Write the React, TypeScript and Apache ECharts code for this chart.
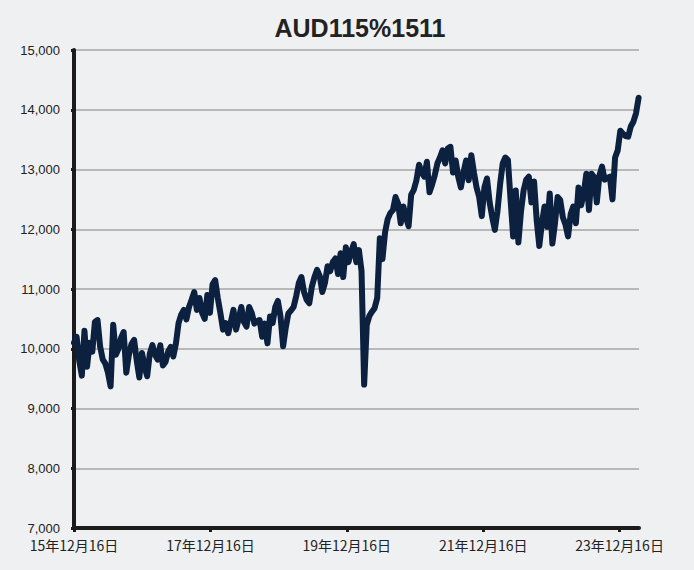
import React, { useEffect, useRef } from "react";
import * as echarts from "echarts";

// Values, one per 14 days starting 2015-12-16
const v2016 = [10100, 10200, 9800, 9550, 10300, 9700, 10100, 9950, 10450, 10480, 10035, 9820, 9750, 9600, 9370, 10400, 9900, 10000, 10180, 10280, 9600, 9900, 10080, 10150, 9800, 9520];
const v2017 = [9930, 9700, 9540, 9920, 10060, 9900, 9820, 10060, 9720, 9780, 9950, 10030, 9870, 10090, 10430, 10570, 10650, 10490, 10700, 10820, 10950, 10650, 10850, 10600, 10500, 10900];
const v2018 = [10600, 11080, 11150, 10850, 10600, 10320, 10430, 10260, 10450, 10650, 10320, 10500, 10700, 10450, 10370, 10700, 10600, 10420, 10460, 10480, 10200, 10420, 10090, 10540, 10430, 10700];
const v2019 = [10800, 10540, 10040, 10350, 10590, 10640, 10700, 10880, 11100, 11200, 10950, 10820, 10760, 11040, 11200, 11320, 11220, 10950, 11100, 11380, 11300, 11450, 11510, 11250, 11600, 11200];
const v2020 = [11700, 11450, 11620, 11750, 11450, 11650, 11300, 9400, 10400, 10550, 10620, 10680, 10850, 11850, 11500, 11950, 12170, 12270, 12320, 12540, 12430, 12100, 12380, 12200, 12050, 12580];
const v2021 = [12660, 12820, 13080, 12950, 12880, 13130, 12620, 12750, 12900, 13100, 13200, 13320, 13100, 13350, 13380, 12950, 13150, 12880, 12700, 12950, 13150, 12820, 13240, 12950, 12700, 12540];
const v2022 = [12220, 12700, 12850, 12450, 12200, 11990, 12300, 12750, 13100, 13200, 13160, 12500, 11880, 12650, 11780, 12300, 12650, 12830, 12880, 12450, 12800, 12150, 11720, 12100, 12380, 12040];
const v2023 = [12600, 11760, 12100, 12540, 12490, 12200, 12080, 11880, 12250, 12380, 12100, 12700, 12400, 12600, 12930, 12320, 12930, 12870, 12450, 12900, 13050, 12830, 12860, 12880, 12500, 13200];
const v2024 = [13320, 13650, 13600, 13560, 13550, 13720, 13800, 13940, 14200];

const tickDates = [
  [2015, 12, 16],
  [2017, 12, 16],
  [2019, 12, 16],
  [2021, 12, 16],
  [2023, 12, 16],
];
const yTicks = [7000, 8000, 9000, 10000, 11000, 12000, 13000, 14000, 15000];

const TITLE = "AUD115%1511";
const STEP_DAYS = 14;
const DAY = 86400000;

export default function App() {
  const ref = useRef<HTMLDivElement>(null);

  useEffect(() => {
    if (!ref.current) return;
    const chart = echarts.init(ref.current, null, { renderer: "svg" });
    const start = new Date(2015, 11, 16).getTime();
    const endAxis = new Date(2024, 2, 29).getTime();
    const values = [...v2016, ...v2017, ...v2018, ...v2019, ...v2020, ...v2021, ...v2022, ...v2023, ...v2024];
    const data = values.map((v, i) => [start + i * STEP_DAYS * DAY, v]);
    const tickVals = tickDates.map(([y, m, d]) => new Date(y, m - 1, d).getTime());

    const axisColor = "#1c1a1b";
    chart.setOption({
      animation: false,
      backgroundColor: "#eff0f2",
      title: {
        text: TITLE,
        left: 355,
        top: 10,
        textAlign: "center",
        textStyle: {
          fontFamily: "Liberation Sans, Arial, sans-serif",
          fontWeight: "bold",
          fontSize: 25,
          color: "#222222",
        },
      },
      grid: {
        left: 74,
        right: 55,
        top: 50,
        bottom: 42,
        containLabel: false,
        outerBoundsMode: "none",
      },
      xAxis: {
        type: "value",
        min: start,
        max: endAxis,
        scale: true,
        axisLine: { show: true, lineStyle: { color: axisColor, width: 4 } },
        axisTick: {
          show: true,
          customValues: tickVals,
          length: 4,
          lineStyle: { color: axisColor, width: 3 },
        },
        axisLabel: {
          customValues: tickVals,
          margin: 10,
          color: "#222222",
          fontSize: 14,
          fontFamily: "Noto Sans CJK JP, sans-serif",
          showMinLabel: true,
          showMaxLabel: true,
          formatter: (val: number) => {
            const d = new Date(val);
            return `${String(d.getFullYear()).slice(2)}年${d.getMonth() + 1}月${d.getDate()}日`;
          },
        },
        splitLine: { show: false },
      },
      yAxis: {
        type: "value",
        min: yTicks[0],
        max: yTicks[yTicks.length - 1],
        interval: 1000,
        axisLine: { show: true, lineStyle: { color: axisColor, width: 4 } },
        axisTick: { show: true, length: 3, lineStyle: { color: axisColor, width: 3 } },
        axisLabel: {
          margin: 14,
          color: "#222222",
          fontSize: 13,
          fontFamily: "Liberation Sans, Arial, sans-serif",
          formatter: (v: number) => v.toLocaleString("en-US"),
        },
        splitLine: { show: true, lineStyle: { color: "#a6a6a6", width: 1.5 } },
      },
      series: [
        {
          type: "line",
          data,
          showSymbol: false,
          symbol: "none",
          lineStyle: { color: "#0b213f", width: 6, join: "round", cap: "round" },
          z: 3,
        },
      ],
    });
    return () => chart.dispose();
  }, []);

  return (
    <div
      ref={ref}
      style={{ position: "fixed", left: 0, top: 0, width: 694, height: 570 }}
    />
  );
}
